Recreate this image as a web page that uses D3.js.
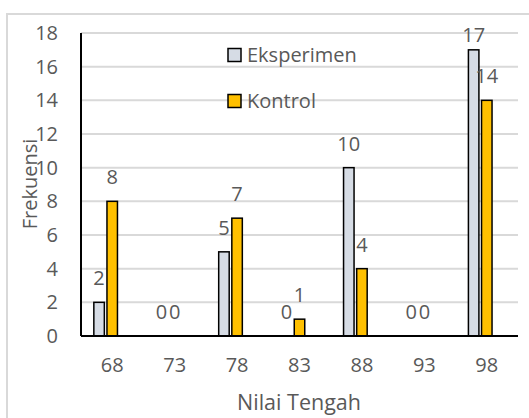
<!DOCTYPE html>
<html><head><meta charset="utf-8">
<script src="https://cdn.jsdelivr.net/npm/d3@7"></script>
<style>body{margin:0;background:#fff}svg{display:block}text{font-family:"Open Sans",sans-serif;fill:#595959}</style>
</head><body>
<script>
const categories = ["68","73","78","83","88","93","98"];
const eksperimen = [2,0,5,0,10,0,17];
const kontrol = [8,0,7,1,4,0,14];
const seriesNames = ["Eksperimen","Kontrol"];
const seriesColors = ["#d6dce5","#ffc000"];
const yTicks = [0,2,4,6,8,10,12,14,16,18];

const W=529,H=418;
const svg=d3.select("body").append("svg").attr("width",W).attr("height",H);
svg.append("rect").attr("x",7).attr("y",14).attr("width",530).attr("height",420)
  .attr("fill","#fff").attr("stroke","#d9d9d9").attr("stroke-width",2);

const pLeft=81,pRight=518,pTop=33,pBottom=336;
const x0=d3.scaleBand().domain(categories).range([pLeft,pRight]);
const x1=d3.scaleBand().domain(["Eksperimen","Kontrol","_"]).range([0,42]).padding(0.2);
const off=(x0.bandwidth()-42)/2;
const y=d3.scaleLinear().domain([0,18]).range([pBottom,pTop]);
const FONT="'Open Sans',sans-serif";

// gridlines
svg.append("g").selectAll("line").data(yTicks.filter(d=>d>0)).join("line")
  .attr("x1",pLeft).attr("x2",pRight).attr("y1",d=>y(d)).attr("y2",d=>y(d))
  .attr("stroke","#d9d9d9").attr("stroke-width",2);

// y axis
const yAxis=d3.axisLeft(y).tickValues(yTicks).tickSize(0).tickPadding(23);
const gy=svg.append("g").attr("transform",`translate(${pLeft},0)`).call(yAxis);
gy.select(".domain").remove();
gy.selectAll("text").style("font-size","20px").attr("fill","#595959").style("font-family",FONT);

// x axis labels
const xAxis=d3.axisBottom(x0).tickSize(0).tickPadding(22);
const gx=svg.append("g").attr("transform",`translate(0,${pBottom})`).call(xAxis);
gx.select(".domain").remove();
gx.selectAll("text").style("font-size","20px").attr("fill","#595959").style("font-family",FONT);

const data=categories.map((c,i)=>({cat:c,vals:[{k:"Eksperimen",v:eksperimen[i],c:seriesColors[0]},{k:"Kontrol",v:kontrol[i],c:seriesColors[1]}]}));
const groups=svg.append("g").selectAll("g").data(data).join("g")
  .attr("transform",d=>`translate(${x0(d.cat)+off},0)`);
groups.selectAll("rect").data(d=>d.vals.filter(v=>v.v>0)).join("rect")
  .attr("x",d=>x1(d.k)).attr("width",x1.bandwidth())
  .attr("y",d=>y(d.v)).attr("height",d=>y(0)-y(d.v))
  .attr("fill",d=>d.c).attr("stroke","#000").attr("stroke-width",1.5);
groups.selectAll("text").data(d=>d.vals).join("text")
  .attr("x",d=>x1(d.k)+x1.bandwidth()/2)
  .attr("y",d=>Math.max(y(d.v)-24,35))
  .attr("dy","0.35em").attr("text-anchor","middle")
  .style("font-size","20px").text(d=>d.v);

// axis lines
svg.append("line").attr("x1",pLeft).attr("x2",pLeft).attr("y1",pTop).attr("y2",pBottom).attr("stroke","#000").attr("stroke-width",2);
svg.append("line").attr("x1",pLeft).attr("x2",pRight).attr("y1",pBottom).attr("y2",pBottom).attr("stroke","#000").attr("stroke-width",2);

// axis titles
svg.append("text").attr("x",299).attr("y",402).attr("dy","0.35em").attr("text-anchor","middle")
  .style("font-size","21.5px").text("Nilai Tengah");
svg.append("text").attr("transform","translate(30,184) rotate(-90)").attr("dy","0.35em")
  .attr("text-anchor","middle").style("font-size","20px").text("Frekuensi");

// legend
const leg=svg.append("g").selectAll("g").data(seriesNames).join("g")
  .attr("transform",(d,i)=>`translate(228,${55+i*46})`);
leg.append("rect").attr("x",0).attr("y",-6.5).attr("width",13).attr("height",13)
  .attr("fill",(d,i)=>seriesColors[i]).attr("stroke","#000").attr("stroke-width",1.5);
leg.append("text").attr("x",19).attr("dy","0.35em").style("font-size","20px").text(d=>d);
</script>
</body></html>
